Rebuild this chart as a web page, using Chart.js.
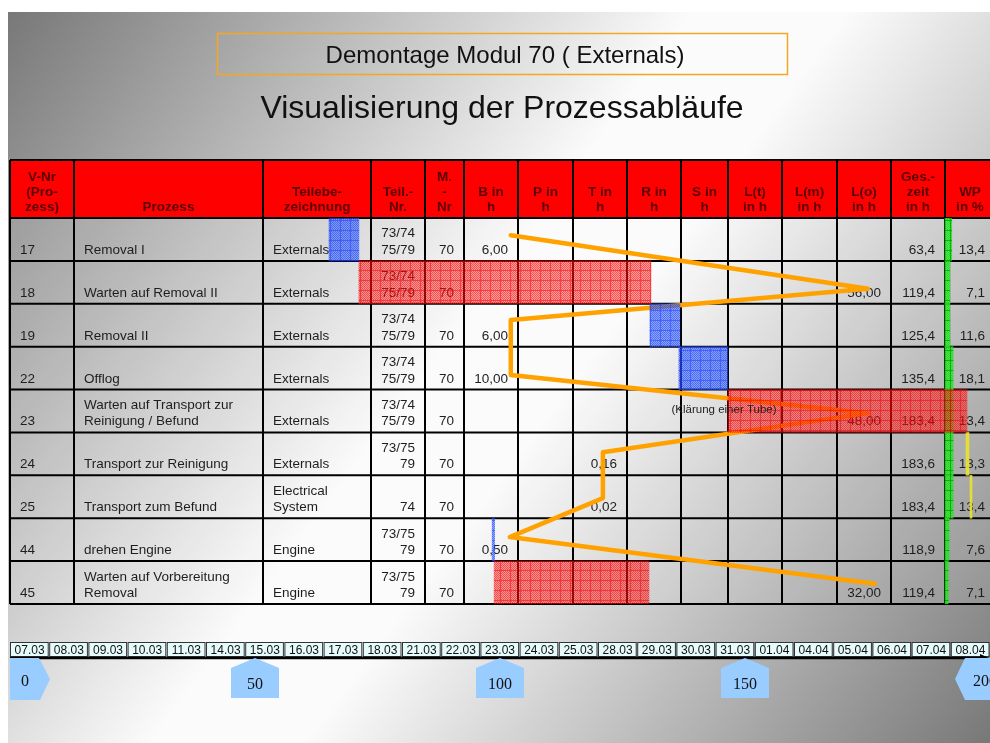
<!DOCTYPE html>
<html>
<head>
<meta charset="utf-8">
<script src="https://cdn.jsdelivr.net/npm/chart.js@4.4.1/dist/chart.umd.min.js"></script>
<style>
  html, body { margin: 0; padding: 0; background: #fff; }
  #wrap { width: 990px; height: 743px; position: relative; }
</style>
</head>
<body>
<div id="wrap"><canvas id="chart"></canvas></div>
<script>
// --- Tabelle ---
const rowIds = ['17', '18', '19', '22', '23', '24', '25', '44', '45'];
const processes = ['Removal I', 'Warten auf Removal II', 'Removal II', 'Offlog',
  'Warten auf Transport zur\nReinigung / Befund', 'Transport zur Reinigung',
  'Transport zum Befund', 'drehen Engine', 'Warten auf Vorbereitung\nRemoval'];
const partNames = ['Externals', 'Externals', 'Externals', 'Externals', 'Externals',
  'Externals', 'Electrical\nSystem', 'Engine', 'Engine'];
const partNos = ['73/74\n75/79', '73/74\n75/79', '73/74\n75/79', '73/74\n75/79', '73/74\n75/79',
  '73/75\n79', '74', '73/75\n79', '73/75\n79'];
const moduleNos = ['70', '70', '70', '70', '70', '70', '70', '70', '70'];
const bHours = [6, null, 6, 10, null, null, null, 0.5, null];
const tHours = [null, null, null, null, null, 0.16, 0.02, null, null];
const loHours = [null, 56, null, null, 48, null, null, null, 32];
const totalHours = [63.4, 119.4, 125.4, 135.4, 183.4, 183.6, 183.4, 118.9, 119.4];
const wpPercent = [13.4, 7.1, 11.6, 18.1, 13.4, 13.3, 13.4, 7.6, 7.1];

const columnHeads = [['V-Nr', '(Pro-', 'zess)'], ['Prozess'], ['Teilebe-', 'zeichnung'],
  ['Teil.-', 'Nr.'], ['M.', '-', 'Nr'], ['B in', 'h'], ['P in', 'h'], ['T in', 'h'],
  ['R in', 'h'], ['S in', 'h'], ['L(t)', 'in h'], ['L(m)', 'in h'], ['L(o)', 'in h'],
  ['Ges.-', 'zeit', 'in h'], ['WP', 'in %']];

// --- Balken auf der Zeitachse (Stunden) ---
const workBars = [[65.1, 71.2], null, [130.6, 136.7], [136.5, 146.5], null, null, null, [98.4, 98.9], null];
const waitBars = [null, [71.2, 130.8], null, null, [146.5, 195.3], null, null, null, [98.8, 130.4]];
const wpBars = [[0, 15], [0, 11], [0, 11], [0, 18], [0, 18], [0, 18], [0, 18], [0, 9], [0, 7]];
const markBars = [null, null, null, null, null, [46.7, 53.3], [55.6, 60], null, null];

// --- orange Ablauflinie ---
const lineHours = [102.2, 175.1, 102.2, 102.2, 175.1, 121.0, 121.0, 102.0, 176.5];
const lineRows = [-0.1, 1.15, 1.88, 3.16, 4.05, 4.96, 6.03, 6.94, 8.03];

// --- Zeitleiste ---
const dates = ['07.03', '08.03', '09.03', '10.03', '11.03', '14.03', '15.03', '16.03', '17.03',
  '18.03', '21.03', '22.03', '23.03', '24.03', '25.03', '28.03', '29.03', '30.03', '31.03',
  '01.04', '04.04', '05.04', '06.04', '07.04', '08.04'];
const hoursPerDay = 8;
const timelineTicks = [0, 50, 100, 150, 200];
const notes = [{ row: 4, hour: 135, text: '(Klärung einer Tube)' }];

const FONT = "'Liberation Sans', Arial, sans-serif";
const SERIF = "'Liberation Serif', 'Times New Roman', serif";
const colEdges = [10, 74, 263, 371, 425, 464, 518, 573, 627, 681, 728, 782, 837, 891, 945, 995];

function fmtH(v) { return v == null ? '' : v.toFixed(2).replace('.', ','); }
function fmt1(v) { return v.toFixed(1).replace('.', ','); }

function cellText(c, r) {
  switch (c) {
    case 0: return rowIds[r];
    case 1: return processes[r];
    case 2: return partNames[r];
    case 3: return partNos[r];
    case 4: return moduleNos[r];
    case 5: return fmtH(bHours[r]);
    case 7: return fmtH(tHours[r]);
    case 12: return fmtH(loHours[r]);
    case 13: return fmt1(totalHours[r]);
    case 14: return fmt1(wpPercent[r]);
  }
  return '';
}

const canvas = document.getElementById('chart');
const mainCtx = canvas.getContext('2d');

function gridPattern(fill, fill2, line) {
  const c = document.createElement('canvas');
  c.width = 10; c.height = 10;
  const g = c.getContext('2d');
  g.fillStyle = fill; g.fillRect(0, 0, 10, 10);
  g.fillStyle = fill2;
  for (let y = 0; y < 10; y++) for (let x = (y % 2); x < 10; x += 2) g.fillRect(x, y, 1, 1);
  g.clearRect(0, 0, 10, 1); g.clearRect(0, 0, 1, 10);
  g.fillStyle = line; g.fillRect(0, 0, 10, 1); g.fillRect(0, 1, 1, 9);
  return mainCtx.createPattern(c, 'repeat');
}

const redPat = gridPattern('rgba(255,30,30,0.42)', 'rgba(255,0,0,0.48)', 'rgba(240,0,0,0.75)');
const bluePat = gridPattern('rgba(40,90,255,0.5)', 'rgba(30,70,255,0.57)', 'rgba(30,60,255,0.8)');
const greenPat = gridPattern('rgba(40,235,40,0.75)', 'rgba(30,220,30,0.8)', 'rgba(0,170,0,0.9)');

const tablePlugin = {
  id: 'table',
  beforeDraw(chart) {
    const ctx = chart.ctx, W = chart.width, H = chart.height;
    const area = chart.chartArea, ys = chart.scales.y;
    ctx.save();
    ctx.fillStyle = '#fff';
    ctx.fillRect(0, 0, W, H);
    const g = ctx.createLinearGradient(8, 12, W, H);
    g.addColorStop(0, '#787878');
    g.addColorStop(0.45, '#fbfbfb');
    g.addColorStop(0.55, '#fbfbfb');
    g.addColorStop(1, '#787878');
    ctx.fillStyle = g;
    ctx.fillRect(8, 12, W - 8, H - 12);

    // Titel
    ctx.strokeStyle = '#f5a623';
    ctx.lineWidth = 1.5;
    ctx.strokeRect(217.5, 33.5, 570, 41);
    ctx.fillStyle = '#111';
    ctx.textAlign = 'center';
    ctx.textBaseline = 'alphabetic';
    ctx.font = '24px ' + FONT;
    ctx.fillText('Demontage Modul 70 ( Externals)', 505, 63);
    ctx.font = '32px ' + FONT;
    ctx.fillText('Visualisierung der Prozessabläufe', 502, 118);

    const headTop = 160, left = colEdges[0], right = W;
    const half = (ys.getPixelForValue(1) - ys.getPixelForValue(0)) / 2;
    const rowTop = i => ys.getPixelForValue(i) - half;
    const rowBottom = i => ys.getPixelForValue(i) + half;

    ctx.fillStyle = '#ff0000';
    ctx.fillRect(left, headTop, right - left, area.top - headTop);
    ctx.fillStyle = 'rgba(255,255,255,0.08)';
    ctx.fillRect(left, area.top, right - left, area.bottom - area.top);

    // Kopfzeile
    ctx.font = 'bold 13.5px ' + FONT;
    ctx.fillStyle = '#5a0000';
    ctx.textAlign = 'center';
    columnHeads.forEach((lines, c) => {
      const cx = (colEdges[c] + colEdges[c + 1]) / 2;
      lines.forEach((t, k) => ctx.fillText(t, cx, area.top - 7 - 15 * (lines.length - 1 - k)));
    });

    // Zeilen
    ctx.font = '13.5px ' + FONT;
    ctx.fillStyle = '#1e1e1e';
    rowIds.forEach((id, r) => {
      const base = rowBottom(r) - 7;
      for (let c = 0; c < columnHeads.length; c++) {
        const txt = cellText(c, r);
        if (!txt) continue;
        const lines = txt.split('\n');
        let x;
        if (c < 3) { ctx.textAlign = 'left'; x = colEdges[c] + 10; }
        else { ctx.textAlign = 'right'; x = colEdges[c + 1] - 10; }
        lines.forEach((t, k) => ctx.fillText(t, x, base - 16.5 * (lines.length - 1 - k)));
      }
    });

    // Gitter
    ctx.strokeStyle = '#000';
    ctx.lineWidth = 2;
    ctx.beginPath();
    ctx.moveTo(left, headTop); ctx.lineTo(right, headTop);
    for (let i = 0; i < rowIds.length; i++) {
      ctx.moveTo(left, rowTop(i)); ctx.lineTo(right, rowTop(i));
    }
    ctx.moveTo(left, area.bottom); ctx.lineTo(right, area.bottom);
    for (let c = 0; c < colEdges.length - 1; c++) {
      ctx.moveTo(colEdges[c], headTop); ctx.lineTo(colEdges[c], area.bottom);
    }
    ctx.stroke();
    ctx.restore();
  },
  afterDatasetsDraw(chart) {
    const ctx = chart.ctx, xs = chart.scales.x, ys = chart.scales.y;
    ctx.save();
    ctx.textBaseline = 'alphabetic';

    ctx.font = '11.5px ' + FONT;
    ctx.fillStyle = '#222';
    ctx.textAlign = 'left';
    notes.forEach(n => ctx.fillText(n.text, xs.getPixelForValue(n.hour), ys.getPixelForValue(n.row) + 2));

    // Datumsleiste
    ctx.font = '12px ' + FONT;
    ctx.textAlign = 'center';
    dates.forEach((d, i) => {
      const a = xs.getPixelForValue(i * hoursPerDay);
      const b = xs.getPixelForValue((i + 1) * hoursPerDay);
      ctx.fillStyle = '#e6fbfb';
      ctx.fillRect(a + 0.5, 642.5, b - a - 1.5, 14);
      ctx.strokeStyle = '#333';
      ctx.lineWidth = 1;
      ctx.strokeRect(a + 0.5, 642.5, b - a - 1.5, 14);
      ctx.fillStyle = '#111';
      ctx.fillText(d, (a + b) / 2, 654);
    });

    // Achse mit Pfeil
    const x0 = xs.getPixelForValue(xs.min), x1 = xs.getPixelForValue(xs.max) - 6;
    ctx.strokeStyle = '#000';
    ctx.lineWidth = 2.5;
    ctx.beginPath(); ctx.moveTo(x0, 658); ctx.lineTo(x1, 658); ctx.stroke();
    ctx.fillStyle = '#000';
    ctx.beginPath(); ctx.moveTo(x1 - 4, 654); ctx.lineTo(x1 + 5, 658); ctx.lineTo(x1 - 4, 662); ctx.closePath(); ctx.fill();

    // Stundenmarken
    ctx.font = '16px ' + SERIF;
    const last = timelineTicks.length - 1;
    timelineTicks.forEach((v, i) => {
      const p = xs.getPixelForValue(v);
      let tx, ty;
      ctx.beginPath();
      if (i === 0) {
        ctx.moveTo(p, 658); ctx.lineTo(p + 29, 658); ctx.lineTo(p + 40, 679);
        ctx.lineTo(p + 30, 700); ctx.lineTo(p, 700);
        tx = p + 15; ty = 686;
      } else if (i === last) {
        ctx.moveTo(p - 35, 679); ctx.lineTo(p - 25, 658); ctx.lineTo(p + 5, 658);
        ctx.lineTo(p + 5, 700); ctx.lineTo(p - 25, 700);
        tx = p - 5; ty = 686;
      } else {
        ctx.moveTo(p, 658); ctx.lineTo(p + 24, 668); ctx.lineTo(p + 24, 698);
        ctx.lineTo(p - 24, 698); ctx.lineTo(p - 24, 668);
        tx = p; ty = 689;
      }
      ctx.closePath();
      ctx.fillStyle = '#99ccff';
      ctx.fill();
      ctx.fillStyle = '#111';
      ctx.fillText(String(v), tx, ty);
    });
    ctx.restore();
  }
};

const barBase = { type: 'bar', grouped: false, barPercentage: 1, categoryPercentage: 1, borderWidth: 0, yAxisID: 'y' };

new Chart(canvas, {
  type: 'bar',
  data: {
    labels: rowIds,
    datasets: [
      {
        type: 'line', label: 'Ablauf', indexAxis: 'y',
        data: lineHours.map((h, i) => ({ x: h, y: lineRows[i] })),
        xAxisID: 'x', yAxisID: 'yLine',
        borderColor: '#ffa200', borderWidth: 4.5, pointRadius: 0, tension: 0,
        fill: false, borderJoinStyle: 'round', borderCapStyle: 'round', order: 6
      },
      Object.assign({}, barBase, { label: 'WP', data: wpBars, xAxisID: 'x2', backgroundColor: greenPat, order: 5 }),
      Object.assign({}, barBase, { label: 'Marke', data: markBars, xAxisID: 'x2', backgroundColor: 'rgba(235,228,40,0.9)', order: 4 }),
      Object.assign({}, barBase, { label: 'Bearbeitung', data: workBars, xAxisID: 'x', backgroundColor: bluePat, order: 2 }),
      Object.assign({}, barBase, { label: 'Wartezeit', data: waitBars, xAxisID: 'x', backgroundColor: redPat, order: 1 })
    ]
  },
  options: {
    responsive: true,
    maintainAspectRatio: false,
    animation: false,
    events: [],
    indexAxis: 'y',
    layout: { padding: { left: 10, right: 0, top: 218, bottom: 139 } },
    plugins: { legend: { display: false }, tooltip: { enabled: false } },
    scales: {
      x: { type: 'linear', min: 0, max: 200, display: false },
      x2: { type: 'linear', min: -2078, max: 100, display: false },
      y: { type: 'category', offset: true, display: false },
      yLine: { type: 'linear', min: -0.5, max: 8.5, reverse: true, offset: false, display: false }
    }
  },
  plugins: [tablePlugin]
});
</script>
</body>
</html>
